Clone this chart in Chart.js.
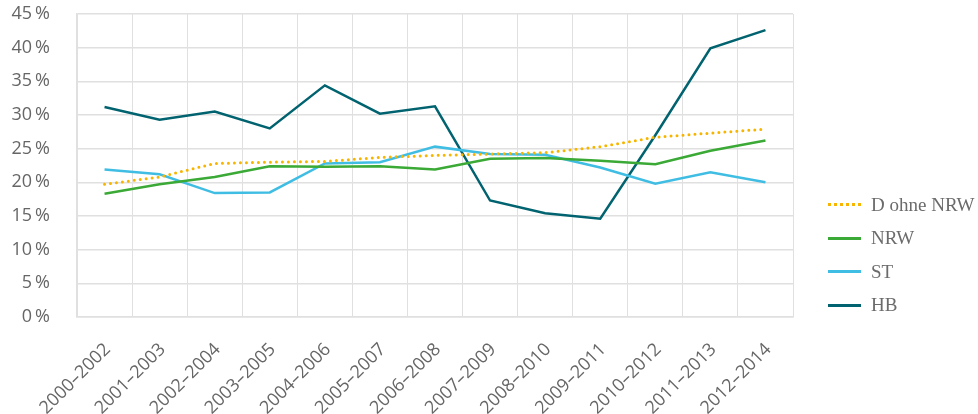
<!DOCTYPE html>
<html>
    <head>
        <meta charset="UTF-8">
        <title>Anteil nach Regionen</title>
        <style>
            html, body {
                margin: 0;
                padding: 0;
                background: #ffffff;
            }
            #wrap {
                position: relative;
                width: 978px;
                height: 414px;
            }
            #legend {
                position: absolute;
                left: 828px;
                top: 188px;
                font-family: "Liberation Serif", serif;
                font-size: 19px;
                color: #6b6b6b;
            }
            .item {
                height: 33.5px;
                display: flex;
                align-items: center;
            }
            .sample {
                width: 33px;
                margin-right: 10px;
                border-top-width: 3px;
                border-top-style: solid;
            }
        </style>
        <script src="https://cdn.jsdelivr.net/npm/chart.js"></script>
    </head>
    <body>
        <div id="wrap">
            <canvas id="chart" width="978" height="414"></canvas>
            <div id="legend"></div>
        </div>
        <script>
            // Zeiträume (3-Jahres-Mittel)
            const periods = ['2000–2002', '2001–2003', '2002–2004', '2003–2005', '2004–2006', '2005–2007', '2006–2008',
                '2007–2009', '2008–2010', '2009–2011', '2010–2012', '2011–2013', '2012–2014'];

            // Werte in Prozent
            const dOhneNrw = [19.7, 20.8, 22.8, 23.0, 23.1, 23.7, 24.0, 24.2, 24.4, 25.3, 26.7, 27.3, 27.9];
            const nrw = [18.3, 19.7, 20.8, 22.4, 22.3, 22.4, 21.9, 23.5, 23.6, 23.2, 22.7, 24.7, 26.2];
            const st = [21.9, 21.2, 18.4, 18.5, 22.8, 23.0, 25.3, 24.2, 24.1, 22.2, 19.8, 21.5, 20.0];
            const hb = [31.2, 29.3, 30.5, 28.0, 34.4, 30.2, 31.3, 17.3, 15.4, 14.6, 27.0, 39.9, 42.6];

            const yTicks = [0, 5, 10, 15, 20, 25, 30, 35, 40, 45];

            const gridColor = '#e0e0e0';
            const textColor = '#666666';

            const datasets = [
                { label: 'D ohne NRW', data: dOhneNrw, borderColor: '#f7b500', borderWidth: 3,
                  borderDash: [0, 6], borderCapStyle: 'round', dotted: true },
                { label: 'NRW', data: nrw, borderColor: '#3aa935', borderWidth: 2.5 },
                { label: 'ST', data: st, borderColor: '#40bde3', borderWidth: 2.5 },
                { label: 'HB', data: hb, borderColor: '#00636f', borderWidth: 2.5 }
            ];
            datasets.forEach(function(d) {
                d.fill = false;
                d.pointRadius = 0;
                d.pointHoverRadius = 0;
                d.tension = 0;
            });

            const ctx = document.getElementById('chart').getContext('2d');
            const chart = new Chart(ctx, {
                type: 'line',
                data: {
                    labels: periods,
                    datasets: datasets
                },
                options: {
                    responsive: false,
                    animation: false,
                    layout: {
                        padding: { left: 10, right: 185, top: 0, bottom: 0 }
                    },
                    plugins: {
                        legend: { display: false },
                        tooltip: { enabled: false }
                    },
                    scales: {
                        x: {
                            offset: true,
                            grid: {
                                offset: true,
                                color: gridColor,
                                lineWidth: 1,
                                drawTicks: false
                            },
                            border: { color: gridColor, width: 1.5 },
                            afterFit: function(scale) {
                                scale.height = 97;
                            },
                            ticks: {
                                minRotation: 45,
                                maxRotation: 45,
                                padding: 22,
                                labelOffset: 3,
                                color: textColor,
                                font: { family: '"Open Sans"', size: 18 },
                                autoSkip: false
                            }
                        },
                        y: {
                            min: 0,
                            max: 45,
                            afterBuildTicks: function(scale) {
                                scale.ticks = yTicks.map(function(v) { return { value: v }; });
                            },
                            afterFit: function(scale) {
                                scale.width = 67;
                                scale.paddingTop = 14;
                                scale.paddingBottom = 0;
                            },
                            grid: {
                                color: gridColor,
                                lineWidth: 1.5,
                                drawTicks: false
                            },
                            border: { color: gridColor, width: 1.5 },
                            ticks: {
                                padding: 27,
                                color: textColor,
                                font: { family: '"Open Sans"', size: 18 },
                                callback: function(v) { return v + '\u2009%'; }
                            }
                        }
                    }
                }
            });

            // Legende
            const legend = document.getElementById('legend');
            datasets.forEach(function(d) {
                const item = document.createElement('div');
                item.className = 'item';
                const sample = document.createElement('span');
                sample.className = 'sample';
                sample.style.borderTopColor = d.borderColor;
                if (d.dotted) {
                    sample.style.borderTopStyle = 'dotted';
                }
                const text = document.createElement('span');
                text.textContent = d.label;
                item.appendChild(sample);
                item.appendChild(text);
                legend.appendChild(item);
            });
        </script>
    </body>
</html>
